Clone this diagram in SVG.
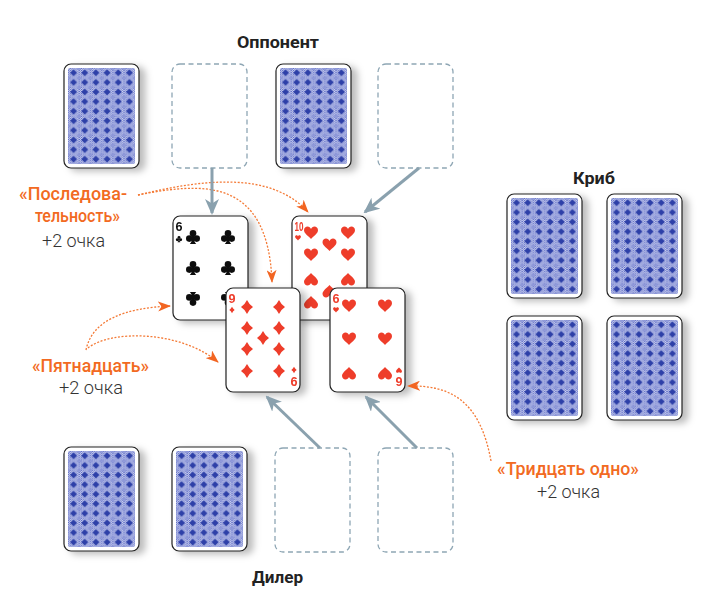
<svg xmlns="http://www.w3.org/2000/svg" width="728" height="605" viewBox="0 0 728 605">
<defs>
<style>
.title{font-family:Roboto,"Liberation Sans",sans-serif;font-weight:700;font-size:17px;fill:#222}
.lab{font-family:Roboto,"Liberation Sans",sans-serif;font-weight:500;font-size:18px;fill:#f26a22}
.pts{font-family:Roboto,"Liberation Sans",sans-serif;font-weight:300;font-size:18px;fill:#333}
.slot{fill:#fff;stroke:#8ea6b4;stroke-width:1.3;stroke-dasharray:5 3.5}
.face{fill:#fff;stroke:#222;stroke-width:1.2}
.gray{stroke:#8aa1ae;stroke-width:3;fill:none}
.orange{stroke:#f47a36;stroke-width:1.3;fill:none;stroke-dasharray:2 1.6}
.red{fill:#ee3d2b}
.blk{fill:#111}
.idx{font-family:"Liberation Sans",sans-serif;font-weight:700;font-size:13px}
</style>
<filter id="sh" x="-20%" y="-20%" width="150%" height="150%">
<feDropShadow dx="6" dy="3" stdDeviation="3.5" flood-color="#000" flood-opacity="0.26"/>
</filter>
<pattern id="chk" width="2" height="2" patternUnits="userSpaceOnUse">
<rect width="2" height="2" fill="#f2f3fc"/>
<rect width="1" height="1" fill="#4a5bc0"/>
<rect x="1" y="1" width="1" height="1" fill="#4a5bc0"/>
</pattern>
<pattern id="bp" x="4" y="4" width="11.17" height="9.6" patternUnits="userSpaceOnUse">
<rect width="11.17" height="9.6" fill="url(#chk)"/>
<path d="M5.58,1.4 L9.1,4.8 L5.58,8.2 L2.1,4.8Z" fill="#2d40a8"/>
<path d="M0,-2.2 L2.2,0 L0,2.2 L-2.2,0Z M11.17,-2.2 L13.37,0 L11.17,2.2 L8.97,0Z M0,7.4 L2.2,9.6 L0,11.8 L-2.2,9.6Z M11.17,7.4 L13.37,9.6 L11.17,11.8 L8.97,9.6Z" fill="#8c96d8"/>
</pattern>
<g id="cardback">
<rect x="0" y="0" width="75" height="104" rx="7" fill="#fff" stroke="#222" stroke-width="1.2"/>
<rect x="4" y="4" width="67" height="96" rx="2" fill="url(#bp)"/>
</g>
<path id="heart" d="M0,6 C-2,3.5 -7,0.5 -7,-2.8 C-7,-5.2 -5.2,-6.5 -3.5,-6.5 C-1.8,-6.5 -0.6,-5.3 0,-4 C0.6,-5.3 1.8,-6.5 3.5,-6.5 C5.2,-6.5 7,-5.2 7,-2.8 C7,0.5 2,3.5 0,6Z"/>
<path id="diam" d="M0,-7 Q2.2,-2.4 6,0 Q2.2,2.4 0,7 Q-2.2,2.4 -6,0 Q-2.2,-2.4 0,-7Z"/>
<g id="club">
<circle cx="0" cy="-3.6" r="3.3"/>
<circle cx="-3.7" cy="1.6" r="3.3"/>
<circle cx="3.7" cy="1.6" r="3.3"/>
<circle cx="0" cy="0.3" r="1.8"/>
<path d="M-0.9,0 Q-0.9,5 -3.2,7 L3.2,7 Q0.9,5 0.9,0Z"/>
</g>
<marker id="ga" viewBox="0 0 16 14" refX="14" refY="7" markerWidth="16" markerHeight="14" markerUnits="userSpaceOnUse" orient="auto">
<path d="M0,0 L16,7 L0,14 L4.5,7Z" fill="#8aa1ae"/>
</marker>
<marker id="oa" viewBox="0 0 13 10" refX="12" refY="5" markerWidth="13" markerHeight="10" markerUnits="userSpaceOnUse" orient="auto">
<path d="M0,0 L13,5 L0,10 L3.5,5Z" fill="#f26522"/>
</marker>
</defs>
<rect width="728" height="605" fill="#fff"/>

<!-- titles -->
<text class="title" x="237" y="48" textLength="82" lengthAdjust="spacingAndGlyphs">Оппонент</text>
<text class="title" x="573" y="184" textLength="42" lengthAdjust="spacingAndGlyphs">Криб</text>
<text class="title" x="252" y="583" textLength="51" lengthAdjust="spacingAndGlyphs">Дилер</text>

<!-- opponent row -->
<g id="opp-card-1" filter="url(#sh)"><use href="#cardback" x="64" y="64"/></g>
<g id="opp-slot-2"><rect class="slot" x="172" y="64" width="75" height="104" rx="8"/></g>
<g id="opp-card-3" filter="url(#sh)"><use href="#cardback" x="276" y="64"/></g>
<g id="opp-slot-4"><rect class="slot" x="378" y="64" width="75" height="104" rx="8"/></g>

<!-- dealer row -->
<g id="dealer-card-1" filter="url(#sh)"><use href="#cardback" x="64" y="447"/></g>
<g id="dealer-card-2" filter="url(#sh)"><use href="#cardback" x="172" y="447"/></g>
<g id="dealer-slot-3"><rect class="slot" x="275" y="448" width="75" height="104" rx="8"/></g>
<g id="dealer-slot-4"><rect class="slot" x="378" y="448" width="75" height="104" rx="8"/></g>

<!-- crib -->
<g id="crib-1" filter="url(#sh)"><use href="#cardback" x="507" y="194"/></g>
<g id="crib-2" filter="url(#sh)"><use href="#cardback" x="607" y="194"/></g>
<g id="crib-3" filter="url(#sh)"><use href="#cardback" x="507" y="316"/></g>
<g id="crib-4" filter="url(#sh)"><use href="#cardback" x="607" y="316"/></g>

<!-- 6 of clubs -->
<g id="six-clubs" transform="translate(173,216)" filter="url(#sh)">
<rect class="face" width="75" height="104" rx="7"/>
<text class="idx blk" x="2.5" y="15" textLength="7" lengthAdjust="spacingAndGlyphs">6</text>
<use href="#club" class="blk" transform="translate(6,23) scale(0.45)"/>
<use href="#club" class="blk" transform="translate(20,21)"/>
<use href="#club" class="blk" transform="translate(55,21)"/>
<use href="#club" class="blk" transform="translate(20,52)"/>
<use href="#club" class="blk" transform="translate(55,52)"/>
<use href="#club" class="blk" transform="translate(20,83) rotate(180)"/>
<use href="#club" class="blk" transform="translate(55,83) rotate(180)"/>
</g>

<!-- 10 of hearts -->
<g id="ten-hearts" transform="translate(292,216)" filter="url(#sh)">
<rect class="face" width="75" height="104" rx="7"/>
<text class="idx red" x="2.5" y="15" textLength="9" lengthAdjust="spacingAndGlyphs">10</text>
<use href="#heart" class="red" transform="translate(6,22) scale(0.42)"/>
<use href="#heart" class="red" transform="translate(19,17)"/>
<use href="#heart" class="red" transform="translate(56,17)"/>
<use href="#heart" class="red" transform="translate(37.5,29)"/>
<use href="#heart" class="red" transform="translate(19,39)"/>
<use href="#heart" class="red" transform="translate(56,39)"/>
<use href="#heart" class="red" transform="translate(19,63) rotate(180)"/>
<use href="#heart" class="red" transform="translate(56,63) rotate(180)"/>
<use href="#heart" class="red" transform="translate(37.5,75) rotate(180)"/>
<use href="#heart" class="red" transform="translate(19,86) rotate(180)"/>
<use href="#heart" class="red" transform="translate(56,86) rotate(180)"/>
</g>

<!-- 9 of diamonds -->
<g id="nine-diamonds" transform="translate(226,288)" filter="url(#sh)">
<rect class="face" width="74" height="104" rx="7"/>
<text class="idx red" x="2.5" y="15" textLength="7" lengthAdjust="spacingAndGlyphs">9</text>
<use href="#diam" class="red" transform="translate(6,22) scale(0.45)"/>
<use href="#diam" class="red" transform="translate(21,19)"/>
<use href="#diam" class="red" transform="translate(53,19)"/>
<use href="#diam" class="red" transform="translate(21,40)"/>
<use href="#diam" class="red" transform="translate(53,40)"/>
<use href="#diam" class="red" transform="translate(37,50)"/>
<use href="#diam" class="red" transform="translate(21,61)"/>
<use href="#diam" class="red" transform="translate(53,61)"/>
<use href="#diam" class="red" transform="translate(21,83)"/>
<use href="#diam" class="red" transform="translate(53,83)"/>
<use href="#diam" class="red" transform="translate(68,82) scale(0.45)"/>
<text class="idx red" x="0" y="0" transform="translate(71.5,89) rotate(180)" textLength="7" lengthAdjust="spacingAndGlyphs">9</text>
</g>

<!-- 6 of hearts -->
<g id="six-hearts" transform="translate(330,288)" filter="url(#sh)">
<rect class="face" width="75" height="104" rx="7"/>
<text class="idx red" x="2.5" y="15" textLength="7" lengthAdjust="spacingAndGlyphs">6</text>
<use href="#heart" class="red" transform="translate(6,22) scale(0.42)"/>
<use href="#heart" class="red" transform="translate(19,18)"/>
<use href="#heart" class="red" transform="translate(55,18)"/>
<use href="#heart" class="red" transform="translate(19,51)"/>
<use href="#heart" class="red" transform="translate(55,51)"/>
<use href="#heart" class="red" transform="translate(19,85) rotate(180)"/>
<use href="#heart" class="red" transform="translate(55,85) rotate(180)"/>
<use href="#heart" class="red" transform="translate(69,82) scale(0.42) rotate(180)"/>
<text class="idx red" x="0" y="0" transform="translate(72.5,89) rotate(180)" textLength="7" lengthAdjust="spacingAndGlyphs">6</text>
</g>

<!-- connectors -->
<g id="connectors">
<path class="orange" d="M138,195 C200,180 270,170 308,212" marker-end="url(#oa)"/>
<path class="orange" d="M138,195 C200,183 268,175 272,282" marker-end="url(#oa)"/>
<path class="orange" d="M86,350 C92,320 125,308 170,306" marker-end="url(#oa)"/>
<path class="orange" d="M88,348 C110,330 180,330 218,362" marker-end="url(#oa)"/>
<path class="orange" d="M491,461 C480,400 450,385 408,386" marker-end="url(#oa)"/>
<path class="gray" d="M212,168 L212,213" marker-end="url(#ga)"/>
<path class="gray" d="M419,168 L365,212" marker-end="url(#ga)"/>
<path class="gray" d="M320,448 L267,397" marker-end="url(#ga)"/>
<path class="gray" d="M417,448 L366,397" marker-end="url(#ga)"/>
</g>

<!-- labels -->
<g id="label-sequence">
<text class="lab" x="19" y="200" textLength="108" lengthAdjust="spacingAndGlyphs">«Последова-</text>
<text class="lab" x="35" y="222" textLength="85" lengthAdjust="spacingAndGlyphs">тельность»</text>
<text class="pts" x="42" y="247" textLength="63" lengthAdjust="spacingAndGlyphs">+2 очка</text>
</g>
<g id="label-fifteen">
<text class="lab" x="32" y="372" textLength="117" lengthAdjust="spacingAndGlyphs">«Пятнадцать»</text>
<text class="pts" x="59" y="394" textLength="64" lengthAdjust="spacingAndGlyphs">+2 очка</text>
</g>
<g id="label-thirtyone">
<text class="lab" x="497" y="475" textLength="142" lengthAdjust="spacingAndGlyphs">«Тридцать одно»</text>
<text class="pts" x="537" y="498" textLength="63" lengthAdjust="spacingAndGlyphs">+2 очка</text>
</g>
</svg>
